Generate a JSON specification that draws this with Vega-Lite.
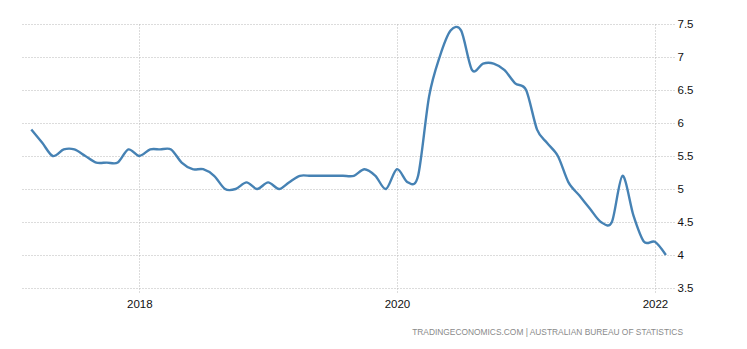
{
  "$schema": "https://vega.github.io/schema/vega-lite/v6.json",
  "autosize": {"type": "none"},
  "padding": {"left": 20, "top": 24, "right": 73, "bottom": 61},
  "width": 654,
  "height": 264,
  "background": "white",
  "title": {
    "text": "TRADINGECONOMICS.COM  |  AUSTRALIAN  BUREAU  OF  STATISTICS",
    "orient": "bottom",
    "anchor": "end",
    "offset": 18,
    "dx": -10,
    "font": "Liberation Sans",
    "fontSize": 8.4,
    "fontWeight": "normal",
    "color": "#8a8a8a"
  },
  "config": {
    "view": {"stroke": null},
    "axis": {
      "labelFont": "Liberation Sans",
      "labelFontSize": 11.5,
      "labelColor": "#111111",
      "gridColor": "#b8b8b8",
      "gridDash": [1, 2],
      "gridWidth": 1,
      "domain": false,
      "title": null
    }
  },
  "data": {
    "values": [
      {"date": "2017-03-01", "rate": 5.9},
      {"date": "2017-04-01", "rate": 5.7},
      {"date": "2017-05-01", "rate": 5.5},
      {"date": "2017-06-01", "rate": 5.6},
      {"date": "2017-07-01", "rate": 5.6},
      {"date": "2017-08-01", "rate": 5.5},
      {"date": "2017-09-01", "rate": 5.4},
      {"date": "2017-10-01", "rate": 5.4},
      {"date": "2017-11-01", "rate": 5.4},
      {"date": "2017-12-01", "rate": 5.6},
      {"date": "2018-01-01", "rate": 5.5},
      {"date": "2018-02-01", "rate": 5.6},
      {"date": "2018-03-01", "rate": 5.6},
      {"date": "2018-04-01", "rate": 5.6},
      {"date": "2018-05-01", "rate": 5.4},
      {"date": "2018-06-01", "rate": 5.3},
      {"date": "2018-07-01", "rate": 5.3},
      {"date": "2018-08-01", "rate": 5.2},
      {"date": "2018-09-01", "rate": 5.0},
      {"date": "2018-10-01", "rate": 5.0},
      {"date": "2018-11-01", "rate": 5.1},
      {"date": "2018-12-01", "rate": 5.0},
      {"date": "2019-01-01", "rate": 5.1},
      {"date": "2019-02-01", "rate": 5.0},
      {"date": "2019-03-01", "rate": 5.1},
      {"date": "2019-04-01", "rate": 5.2},
      {"date": "2019-05-01", "rate": 5.2},
      {"date": "2019-06-01", "rate": 5.2},
      {"date": "2019-07-01", "rate": 5.2},
      {"date": "2019-08-01", "rate": 5.2},
      {"date": "2019-09-01", "rate": 5.2},
      {"date": "2019-10-01", "rate": 5.3},
      {"date": "2019-11-01", "rate": 5.2},
      {"date": "2019-12-01", "rate": 5.0},
      {"date": "2020-01-01", "rate": 5.3},
      {"date": "2020-02-01", "rate": 5.1},
      {"date": "2020-03-01", "rate": 5.2},
      {"date": "2020-04-01", "rate": 6.4},
      {"date": "2020-05-01", "rate": 7.0},
      {"date": "2020-06-01", "rate": 7.4},
      {"date": "2020-07-01", "rate": 7.4},
      {"date": "2020-08-01", "rate": 6.8},
      {"date": "2020-09-01", "rate": 6.9},
      {"date": "2020-10-01", "rate": 6.9},
      {"date": "2020-11-01", "rate": 6.8},
      {"date": "2020-12-01", "rate": 6.6},
      {"date": "2021-01-01", "rate": 6.5},
      {"date": "2021-02-01", "rate": 5.9},
      {"date": "2021-03-01", "rate": 5.7},
      {"date": "2021-04-01", "rate": 5.5},
      {"date": "2021-05-01", "rate": 5.1},
      {"date": "2021-06-01", "rate": 4.9},
      {"date": "2021-07-01", "rate": 4.7},
      {"date": "2021-08-01", "rate": 4.5},
      {"date": "2021-09-01", "rate": 4.5},
      {"date": "2021-10-01", "rate": 5.2},
      {"date": "2021-11-01", "rate": 4.6},
      {"date": "2021-12-01", "rate": 4.2},
      {"date": "2022-01-01", "rate": 4.2},
      {"date": "2022-02-01", "rate": 4.0}
    ]
  },
  "mark": {
    "type": "line",
    "interpolate": "cardinal",
    "tension": 0.1,
    "color": "#4682b4",
    "strokeWidth": 2.4,
    "clip": false
  },
  "encoding": {
    "x": {
      "field": "date",
      "type": "temporal",
      "scale": {
        "type": "utc",
        "domain": [
          {"year": 2017, "month": 1, "date": 28, "utc": true},
          {"year": 2022, "month": 2, "date": 24, "utc": true}
        ]
      },
      "axis": {
        "values": [
          {"year": 2018, "month": 1, "date": 1, "utc": true},
          {"year": 2020, "month": 1, "date": 1, "utc": true},
          {"year": 2022, "month": 1, "date": 1, "utc": true}
        ],
        "format": "%Y",
        "grid": true,
        "ticks": true,
        "tickSize": 5,
        "tickColor": "#b8b8b8",
        "tickDash": [1, 2],
        "labelPadding": 5
      }
    },
    "y": {
      "field": "rate",
      "type": "quantitative",
      "scale": {"domain": [3.5, 7.5], "zero": false, "nice": false},
      "axis": {
        "orient": "right",
        "values": [3.5, 4, 4.5, 5, 5.5, 6, 6.5, 7, 7.5],
        "format": "~g",
        "ticks": false,
        "labelPadding": 3,
        "grid": true
      }
    }
  }
}
